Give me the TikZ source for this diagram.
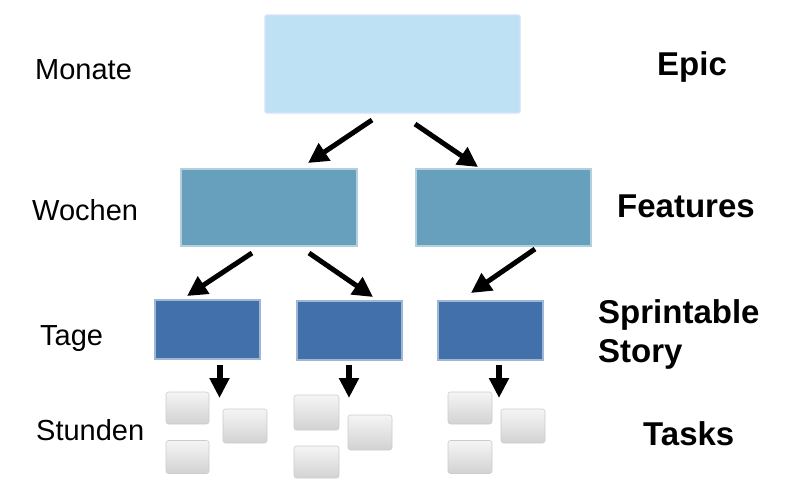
\documentclass[tikz,border=0pt]{standalone}
\usepackage{fontspec}
\setmainfont{Liberation Sans}
\usetikzlibrary{arrows.meta}
\definecolor{epicc}{HTML}{BEE2F3}
\definecolor{featc}{HTML}{66A0BD}
\definecolor{sprc}{HTML}{4170AA}
\tikzset{
  box/.style={rectangle, inner sep=0pt, line width=1.2pt},
  epicbox/.style={box, fill=epicc, draw=epicc!80!blue!40!white, rounded corners=2pt},
  featbox/.style={box, fill=featc, draw=featc!50!white},
  sprbox/.style={box, fill=sprc, draw=sprc!50!white},
  taskbox/.style={rectangle, inner sep=0pt, rounded corners=2.5pt, top color=gray!8, bottom color=gray!35, draw=gray!40, line width=0.6pt},
  lbl/.style={anchor=base west, inner sep=0pt, font=\fontsize{29}{33}\selectfont},
  blbl/.style={anchor=base west, inner sep=0pt, font=\fontsize{33}{39}\selectfont\bfseries, align=left},
  arr/.style={line width=5pt, -{Triangle[width=20pt,length=20pt]}, shorten <=0pt},
  darr/.style={line width=6pt, -{Triangle[width=19pt,length=20pt]}}
}
\begin{document}
\begin{tikzpicture}[x=1pt,y=-1pt]
\useasboundingbox (0,0) rectangle (810,479);
% boxes
\node[epicbox, minimum width=255pt, minimum height=98pt] (epic) at (392.5,64) {};
\node[featbox, minimum width=176pt, minimum height=77pt] (f1) at (269,207.5) {};
\node[featbox, minimum width=175pt, minimum height=77pt] (f2) at (503.5,207.5) {};
\node[sprbox, minimum width=105pt, minimum height=59pt] (s1) at (207.5,329.5) {};
\node[sprbox, minimum width=105pt, minimum height=59pt] (s2) at (349.5,330.5) {};
\node[sprbox, minimum width=105pt, minimum height=59pt] (s3) at (490.5,330.5) {};
% tasks
\node[taskbox, minimum width=43pt, minimum height=32pt] (t11) at (187.5,408) {};
\node[taskbox, minimum width=44pt, minimum height=34pt] (t12) at (245,426) {};
\node[taskbox, minimum width=43pt, minimum height=33pt] (t13) at (187.5,457) {};
\node[taskbox, minimum width=45pt, minimum height=35pt] (t21) at (316.5,412.5) {};
\node[taskbox, minimum width=44pt, minimum height=35pt] (t22) at (370,432.5) {};
\node[taskbox, minimum width=45pt, minimum height=32pt] (t23) at (316.5,462) {};
\node[taskbox, minimum width=44pt, minimum height=32pt] (t31) at (470,408) {};
\node[taskbox, minimum width=44pt, minimum height=34pt] (t32) at (523,426) {};
\node[taskbox, minimum width=44pt, minimum height=33pt] (t33) at (470,457) {};
% arrow end points
\coordinate (e1s) at (372,120); \coordinate (e1t) at (308,163);
\coordinate (e2s) at (415,124); \coordinate (e2t) at (478,167);
\coordinate (f1as) at (252,253); \coordinate (f1at) at (187,296);
\coordinate (f1bs) at (309,253); \coordinate (f1bt) at (373,297);
\coordinate (f2s) at (535,249); \coordinate (f2t) at (471,293);
\coordinate (d1s) at (219.5,365); \coordinate (d1t) at (219.5,398);
\coordinate (d2s) at (349,365); \coordinate (d2t) at (349,398);
\coordinate (d3s) at (499,365); \coordinate (d3t) at (499,398);
\draw[arr] (e1s) -- (e1t);
\draw[arr] (e2s) -- (e2t);
\draw[arr] (f1as) -- (f1at);
\draw[arr] (f1bs) -- (f1bt);
\draw[arr] (f2s) -- (f2t);
\draw[darr] (d1s) -- (d1t);
\draw[darr] (d2s) -- (d2t);
\draw[darr] (d3s) -- (d3t);
% labels
\node[lbl] (monate) at (35,79) {Monate};
\node[lbl] (wochen) at (32,220) {Wochen};
\node[lbl] (tage) at (40,345) {Tage};
\node[lbl] (stunden) at (36,440) {Stunden};
\node[blbl] (epiclbl) at (657,75) {Epic};
\node[blbl] (featlbl) at (617,217) {Features};
\node[anchor=north west, inner sep=0pt, font=\fontsize{33}{39}\selectfont\bfseries, align=left] (sprlbl) at (598,299) {Sprintable\\Story};
\node[blbl] (tasklbl) at (643,445) {Tasks};
\end{tikzpicture}
\end{document}
